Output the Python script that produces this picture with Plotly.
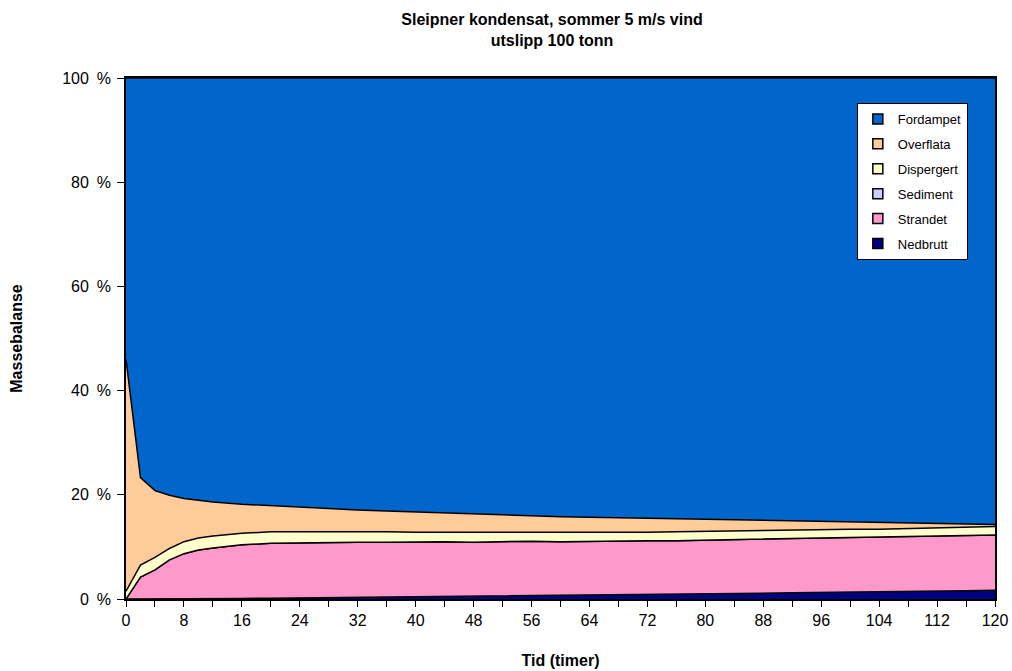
import plotly.graph_objects as go

# Tid i timer etter utslipp
tid = [0, 2, 4, 6, 8, 10, 12, 16, 20, 24, 28, 32, 36, 40, 44, 48, 52, 56, 60,
       64, 68, 72, 76, 80, 84, 88, 92, 96, 100, 104, 108, 112, 116, 120]

# Massebalanse per komponent (% av utsluppet mengde)
nedbrutt = [0, 0, 0, 0, 0.05, 0.05, 0.1, 0.1, 0.15, 0.2, 0.25, 0.3, 0.35, 0.4, 0.45,
            0.5, 0.55, 0.6, 0.65, 0.7, 0.8, 0.85, 0.9, 1.0, 1.05, 1.1, 1.2, 1.25, 1.3,
            1.4, 1.45, 1.5, 1.6, 1.7]
strandet = [0, 4.2, 5.6, 7.5, 8.65, 9.35, 9.7, 10.3, 10.55, 10.6, 10.65, 10.6, 10.55,
            10.6, 10.55, 10.4, 10.45, 10.5, 10.35, 10.4, 10.3, 10.35, 10.3, 10.3, 10.35,
            10.3, 10.3, 10.35, 10.4, 10.4, 10.45, 10.5, 10.5, 10.6]
sediment = [0] * len(tid)
dispergert = [1.5, 2.3, 2.4, 2.2, 2.3, 2.3, 2.3, 2.2, 2.2, 2.1, 2.0, 2.1, 2.0, 1.8, 1.8,
              1.9, 1.8, 1.7, 1.8, 1.6, 1.7, 1.6, 1.7, 1.7, 1.7, 1.7, 1.7, 1.8, 1.7, 1.6,
              1.6, 1.6, 1.6, 1.6]
overflata = [44.5, 16.8, 12.8, 10.2, 8.3, 7.2, 6.5, 5.6, 5.0, 4.7, 4.4, 4.1, 4.0, 3.9,
             3.7, 3.5, 3.3, 3.2, 3.0, 3.0, 2.8, 2.7, 2.5, 2.3, 2.1, 2.0, 1.7, 1.4, 1.3,
             1.2, 1.0, 0.9, 0.7, 0.4]
fordampet = [54.0, 76.7, 79.2, 80.1, 80.7, 81.1, 81.4, 81.8, 82.1, 82.4, 82.7, 82.9,
             83.1, 83.3, 83.5, 83.7, 83.9, 84.0, 84.2, 84.3, 84.4, 84.5, 84.6, 84.7,
             84.8, 84.9, 85.1, 85.2, 85.3, 85.4, 85.5, 85.5, 85.6, 85.7]

# Stablet nedenfra og opp
serier = [
    ("Nedbrutt", nedbrutt, "#000080"),
    ("Strandet", strandet, "#FF99CC"),
    ("Sediment", sediment, "#CCCCFF"),
    ("Dispergert", dispergert, "#FFFFCC"),
    ("Overflata", overflata, "#FFCC99"),
    ("Fordampet", fordampet, "#0066CC"),
]

FONT = "Liberation Sans, Arial, sans-serif"

fig = go.Figure()
for navn, verdier, farge in serier:
    fig.add_trace(go.Scatter(
        x=tid, y=verdier, name=navn, mode="lines",
        stackgroup="masse", showlegend=False,
        line=dict(color="black", width=1.5),
        fillcolor=farge,
    ))

# Tegnforklaring med firkantede symboler, øverste lag først
for navn, _, farge in reversed(serier):
    fig.add_trace(go.Scatter(
        x=[None], y=[None], name=navn, mode="markers",
        legendgroup=navn, showlegend=True,
        marker=dict(symbol="square", size=10, color=farge,
                    line=dict(color="black", width=1.5)),
    ))

fig.update_layout(
    width=1012, height=671,
    margin=dict(l=126, r=17, t=78, b=72, autoexpand=False),
    paper_bgcolor="white", plot_bgcolor="white",
    font=dict(family=FONT, size=16, color="black"),
    title=dict(
        text="<b>Sleipner kondensat, sommer 5 m/s vind<br>utslipp 100 tonn</b>",
        x=0.5455, xanchor="center", y=0.962, yanchor="middle",
        font=dict(family=FONT, size=16, color="black"),
    ),
    showlegend=True,
    legend=dict(
        x=0.841, y=0.952, xanchor="left", yanchor="top",
        traceorder="grouped", tracegroupgap=5,
        bgcolor="white", bordercolor="black", borderwidth=1,
        font=dict(family=FONT, size=13, color="black"),
    ),
)

fig.update_xaxes(
    range=[0, 120], tickmode="linear", tick0=0, dtick=8,
    ticks="outside", ticklen=6, tickcolor="black", automargin=False,
    minor=dict(dtick=4, ticks="outside", ticklen=6, tickcolor="black"),
    showgrid=False, zeroline=False,
    showline=True, linecolor="black", linewidth=1.5, mirror=True,
    title=dict(text="<b>Tid (timer)</b>", standoff=27,
               font=dict(family=FONT, size=16, color="black")),
)
fig.update_yaxes(
    range=[0, 100], tickmode="linear", tick0=0, dtick=20, ticksuffix="\u2002%",
    ticks="outside", ticklen=7, tickcolor="black", automargin=False,
    ticklabelstandoff=3,
    showgrid=False, zeroline=False,
    showline=True, linecolor="black", linewidth=1.5, mirror=True,
    title=dict(text="<b>Massebalanse</b>", standoff=36,
               font=dict(family=FONT, size=16, color="black")),
)

fig.write_html("out.html")
